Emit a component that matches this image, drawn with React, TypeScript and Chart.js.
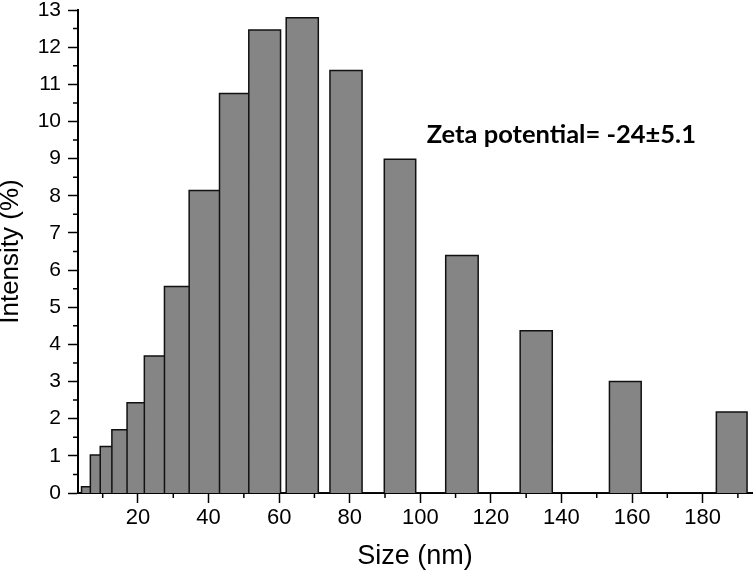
import React, { useEffect, useRef } from "react";
import { Chart, registerables } from "chart.js";

Chart.register(...registerables);

// Histogram bins (size, nm) and intensity (%)
const binStart = [4.0, 6.5, 9.3, 12.6, 16.9, 21.8, 27.5, 34.5, 43.1, 51.4, 62.0, 74.4, 89.8, 107.2, 128.3, 153.6, 183.9];
const binEnd = [6.5, 9.3, 12.6, 16.9, 21.8, 27.5, 34.5, 43.1, 51.4, 60.4, 71.1, 83.5, 98.7, 116.4, 137.4, 162.6, 192.6];
const intensity = [0.17, 1.02, 1.25, 1.7, 2.43, 3.69, 5.56, 8.14, 10.75, 12.46, 12.79, 11.37, 8.98, 6.39, 4.37, 3.0, 2.18];

const xMajorTicks = [20, 40, 60, 80, 100, 120, 140, 160, 180];
const xMinorTicks = [10, 30, 50, 70, 90, 110, 130, 150, 170, 190];
const yMinorTicks = [0.5, 1.5, 2.5, 3.5, 4.5, 5.5, 6.5, 7.5, 8.5, 9.5, 10.5, 11.5, 12.5];

const xRange = [3, 194];
const yRange = [0, 13];

const zetaText = "Zeta potential= -24±5.1";
const zetaX = 101.8;
const zetaY = 9.41;

const FONT = "'Liberation Sans', Arial, sans-serif";

export default function App() {
  const ref = useRef<HTMLCanvasElement | null>(null);

  useEffect(() => {
    document.body.style.margin = "0";
    const canvas = ref.current;
    if (!canvas) return;

    const points: { x: number; y: number }[] = [];
    binStart.forEach((s, i) => {
      points.push({ x: s, y: 0 });
      points.push({ x: s, y: intensity[i] });
      points.push({ x: binEnd[i], y: intensity[i] });
      points.push({ x: binEnd[i], y: 0 });
    });

    const extras = {
      id: "extras",
      afterDatasetsDraw(chart: any) {
        const { ctx } = chart;
        const xs = chart.scales.x;
        const ys = chart.scales.y;
        ctx.save();
        ctx.strokeStyle = "#000";
        ctx.lineWidth = 1.5;
        ctx.beginPath();
        yMinorTicks.forEach((v) => {
          const py = ys.getPixelForValue(v);
          ctx.moveTo(xs.left, py);
          ctx.lineTo(xs.left - 5, py);
        });
        xMinorTicks.forEach((v) => {
          const px = xs.getPixelForValue(v);
          ctx.moveTo(px, ys.bottom);
          ctx.lineTo(px, ys.bottom + 5);
        });
        ctx.stroke();
        ctx.fillStyle = "#000";
        ctx.font = "bold 25.5px Lato, 'Open Sans', sans-serif";
        ctx.textAlign = "left";
        ctx.textBaseline = "alphabetic";
        ctx.fillText(zetaText, xs.getPixelForValue(zetaX), ys.getPixelForValue(zetaY));
        ctx.restore();
      },
    };

    const chart = new Chart(canvas, {
      type: "line",
      data: {
        datasets: [
          {
            data: points,
            borderColor: "#111",
            borderWidth: 1.5,
            backgroundColor: "#858585",
            fill: "origin",
            pointRadius: 0,
            tension: 0,
          },
        ],
      },
      options: {
        animation: false,
        responsive: false,
        devicePixelRatio: 1,
        layout: { padding: { top: 10, right: 2, left: 0, bottom: 0 } },
        plugins: { legend: { display: false }, tooltip: { enabled: false } },
        scales: {
          x: {
            type: "linear",
            min: xRange[0],
            max: xRange[1],
            afterBuildTicks: (scale: any) => {
              scale.ticks = xMajorTicks.map((v) => ({ value: v }));
            },
            afterFit: (scale: any) => {
              scale.height = 78;
              scale.paddingLeft = 0;
              scale.paddingRight = 0;
            },
            grid: { drawOnChartArea: false, drawTicks: true, tickLength: 10, tickColor: "#000", tickWidth: 1.5 },
            border: { display: true, color: "#000", width: 2 },
            ticks: { color: "#000", padding: 2, maxRotation: 0, font: { family: FONT, size: 22, lineHeight: 1.2 } },
            title: { display: true, text: "Size (nm)", color: "#000", padding: 0, font: { family: FONT, size: 27, lineHeight: 1.08 } },
          },
          y: {
            type: "linear",
            min: yRange[0],
            max: yRange[1],
            ticks: { stepSize: 1, color: "#000", padding: 7, font: { family: FONT, size: 21, lineHeight: 1 } },
            afterFit: (scale: any) => {
              scale.width = 78;
              scale.paddingTop = 0;
              scale.paddingBottom = 0;
            },
            grid: { drawOnChartArea: false, drawTicks: true, tickLength: 10, tickColor: "#000", tickWidth: 1.5 },
            border: { display: true, color: "#000", width: 2 },
            title: { display: true, text: "Intensity (%)", color: "#000", padding: 0, font: { family: FONT, size: 26, lineHeight: 0.8 } },
          },
        },
      },
      plugins: [extras],
    });

    return () => chart.destroy();
  }, []);

  return (
    <div style={{ width: 754, height: 571 }}>
      <canvas ref={ref} width={754} height={571} style={{ display: "block" }} />
    </div>
  );
}
